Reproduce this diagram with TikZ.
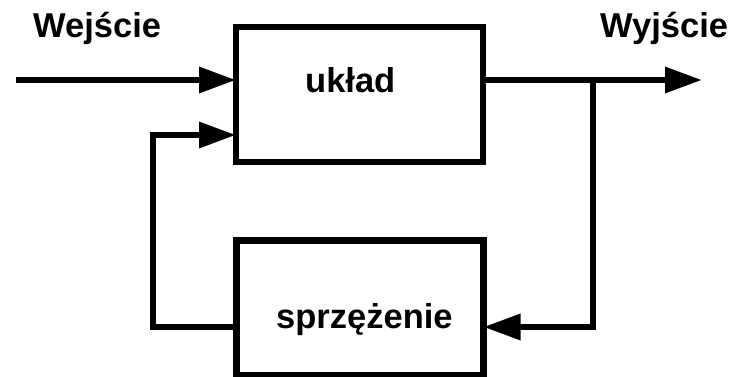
\documentclass[tikz,border=0pt]{standalone}
\usepackage{fontspec}
\setmainfont{Liberation Sans}
\usetikzlibrary{arrows.meta}
\tikzset{
  blk/.style={draw=black, line width=6.5pt, minimum width=247pt, minimum height=135pt, inner sep=0pt, outer sep=0pt, fill=white},
  wire/.style={line width=6.5pt, line join=miter},
  arr/.style={wire, -{Triangle[length=37pt,width=25pt]}},
  lbl/.style={font=\fontsize{34.5}{41}\selectfont\bfseries, inner sep=0pt, anchor=base west}
}
\begin{document}
\begin{tikzpicture}[x=1pt,y=1pt]
\useasboundingbox (0,0) rectangle (733,376);
\node[blk] (top) at (359.5,281.5) {};
\node[blk] (bot) at (360,68) {};
\node[lbl] (tin) at (33,339) {Wejście};
\node[lbl] (tout) at (600,339) {Wyjście};
\node[lbl] (tuk) at (305,284) {układ};
\node[lbl] (tsp) at (276,48) {sprzężenie};
\coordinate (in) at (16,296);
\coordinate (out) at (702,296);
\coordinate (tap) at (593,296);
\coordinate (br) at (593,49);
\coordinate (bl) at (153,49);
\coordinate (tl) at (153,241);
\draw[arr] (in) -- (in -| top.west);
\draw[arr] (top.east |- out) -- (out);
\draw[arr] (tap) -- (br) -- (br -| bot.east);
\draw[arr] (bot.west |- bl) -- (bl) -- (tl) -- (tl -| top.west);
\end{tikzpicture}
\end{document}
